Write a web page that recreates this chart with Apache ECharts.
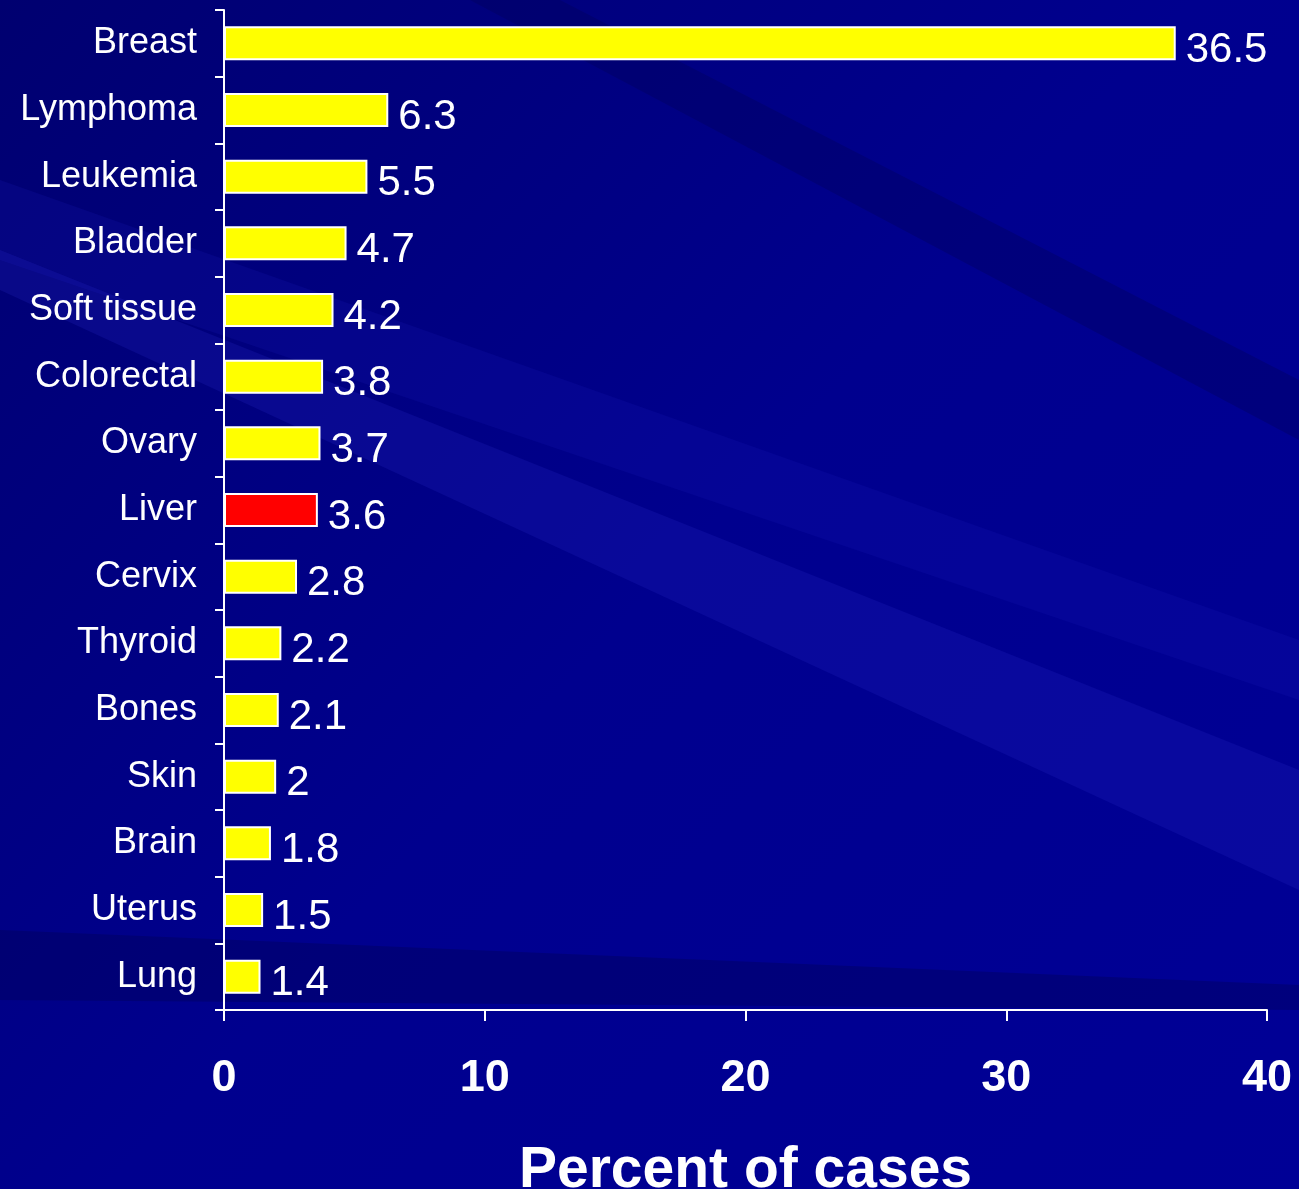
<!DOCTYPE html>
<html>
<head>
<meta charset="utf-8">
<script src="https://cdn.jsdelivr.net/npm/echarts@6/dist/echarts.min.js"></script>
<style>
  html, body { margin: 0; padding: 0; background: #00008c; }
  #main { width: 1299px; height: 1189px; }
</style>
</head>
<body>
<div id="main"></div>
<script>
// data
const categories = ['Breast', 'Lymphoma', 'Leukemia', 'Bladder', 'Soft tissue', 'Colorectal', 'Ovary',
  'Liver', 'Cervix', 'Thyroid', 'Bones', 'Skin', 'Brain', 'Uterus', 'Lung'];
const percents = [36.5, 6.3, 5.5, 4.7, 4.2, 3.8, 3.7, 3.6, 2.8, 2.2, 2.1, 2, 1.8, 1.5, 1.4];
const highlighted = 'Liver';
const xTicks = [0, 10, 20, 30, 40];

const font = 'Liberation Sans, Arial, sans-serif';
const chart = echarts.init(document.getElementById('main'));

chart.setOption({
  backgroundColor: {
    type: 'linear', x: 0, y: 0, x2: 1, y2: 1,
    colorStops: [
      { offset: 0, color: '#000070' },
      { offset: 0.5, color: '#00008e' },
      { offset: 1, color: '#000096' }
    ]
  },
  // soft streaks in the background
  graphic: [
    { type: 'polygon', z: -10, silent: true,
      shape: { points: [[0, 180], [1299, 640], [1299, 700], [0, 260]] },
      style: { fill: 'rgba(30,30,190,0.18)' } },
    { type: 'polygon', z: -10, silent: true,
      shape: { points: [[0, 250], [1299, 770], [1299, 890], [0, 290]] },
      style: { fill: 'rgba(40,40,200,0.22)' } },
    { type: 'polygon', z: -10, silent: true,
      shape: { points: [[0, 930], [1299, 985], [1299, 1010], [0, 1000]] },
      style: { fill: 'rgba(0,0,80,0.35)' } },
    { type: 'polygon', z: -10, silent: true,
      shape: { points: [[560, 0], [1299, 380], [1299, 440], [470, 0]] },
      style: { fill: 'rgba(0,0,90,0.35)' } }
  ],
  grid: { left: 224, right: 32, top: 10, bottom: 179, containLabel: false, outerBoundsMode: 'none' },
  xAxis: {
    type: 'value',
    min: xTicks[0],
    max: xTicks[xTicks.length - 1],
    interval: 10,
    name: 'Percent of cases',
    nameLocation: 'middle',
    nameGap: 133,
    nameTextStyle: { color: '#fff', fontSize: 57, fontWeight: 'bold', fontFamily: font },
    axisLine: { show: true, lineStyle: { color: '#fff', width: 2 } },
    axisTick: { show: true, length: 11, lineStyle: { color: '#fff', width: 2 } },
    axisLabel: { color: '#fff', fontSize: 45, fontWeight: 'bold', margin: 46, fontFamily: font },
    splitLine: { show: false }
  },
  yAxis: {
    type: 'category',
    data: categories,
    inverse: true,
    axisLine: { show: true, lineStyle: { color: '#fff', width: 2 } },
    axisTick: { show: true, length: 9, lineStyle: { color: '#fff', width: 2 } },
    axisLabel: { color: '#fff', fontSize: 36, margin: 27, fontFamily: font }
  },
  series: [{
    type: 'bar',
    barWidth: 34,
    data: percents.map((v, i) => ({
      value: v,
      itemStyle: { color: categories[i] === highlighted ? '#ff0000' : '#ffff00' }
    })),
    itemStyle: { borderColor: '#fff', borderWidth: 2 },
    label: {
      show: true,
      position: 'right',
      distance: 10,
      offset: [0, 7],
      color: '#fff',
      fontSize: 42,
      fontFamily: font
    }
  }]
});
</script>
</body>
</html>
